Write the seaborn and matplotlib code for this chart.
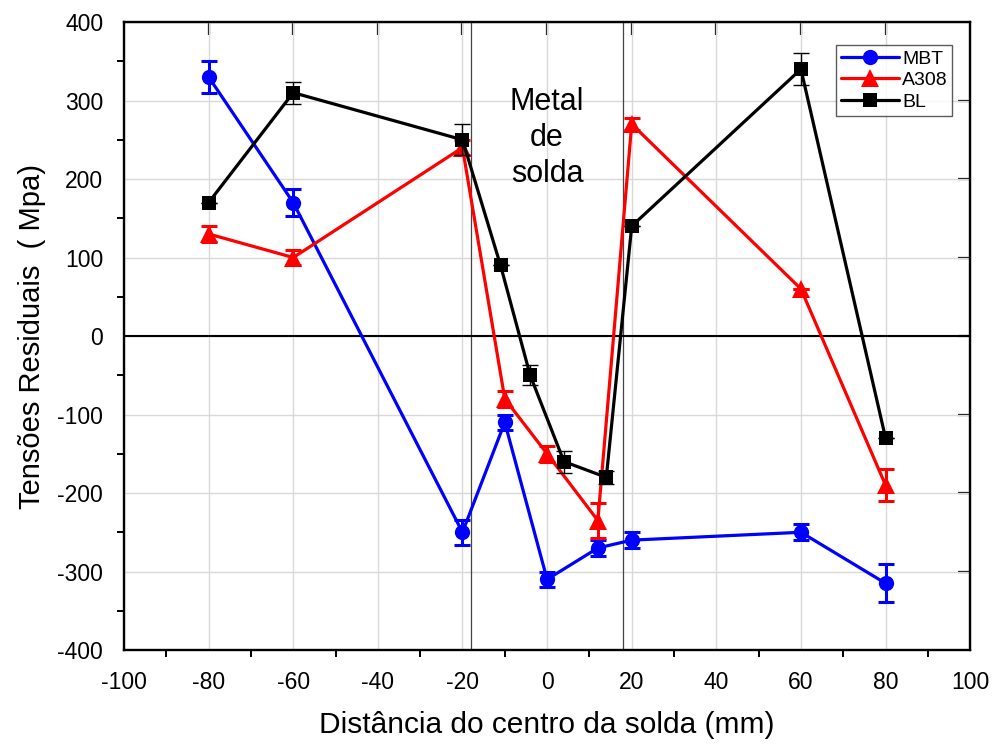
import matplotlib
matplotlib.use("Agg")
import matplotlib.pyplot as plt
import seaborn as sns
import pandas as pd
from matplotlib.ticker import MultipleLocator

# Residual stress profiles across the weld
mbt_x = [-80, -60, -20, -10, 0, 12, 20, 60, 80]
mbt_y = [330, 170, -250, -110, -310, -270, -260, -250, -315]
mbt_err = [20, 17, 16, 10, 10, 10, 10, 10, 24]

a308_x = [-80, -60, -20, -10, 0, 12, 20, 60, 80]
a308_y = [130, 100, 240, -80, -150, -235, 270, 60, -190]
a308_err = [10, 10, 10, 10, 10, 22, 8, 0, 20]

bl_x = [-80, -60, -20, -11, -4, 4, 14, 20, 60, 80]
bl_y = [170, 310, 250, 90, -50, -160, -180, 140, 340, -130]
bl_err = [0, 14, 20, 0, 13, 14, 8, 0, 20, 0]

weld_bounds = [-18, 18]

series = [
    ("MBT", mbt_x, mbt_y, mbt_err, "#0000ff", "o", 11, 2.2),
    ("A308", a308_x, a308_y, a308_err, "#ff0000", "^", 13, 2.2),
    ("BL", bl_x, bl_y, bl_err, "#000000", "s", 10, 1.0),
]

sns.set_style("white")
plt.rcParams["font.family"] = ["Liberation Sans", "DejaVu Sans"]
plt.rcParams["axes.unicode_minus"] = False
plt.rcParams["text.color"] = "black"
plt.rcParams["axes.labelcolor"] = "black"
plt.rcParams["xtick.color"] = "black"
plt.rcParams["ytick.color"] = "black"

fig = plt.figure(figsize=(9.92, 7.44), dpi=100)
ax = fig.add_axes([0.125, 0.1263, 0.853, 0.8441])

ax.grid(True, which="major", color="#d9d9d9", linewidth=1.0)
ax.set_axisbelow(True)

for xb in weld_bounds:
    ax.axvline(xb, color="#444444", linewidth=0.9, zorder=1)
ax.axhline(0, color="black", linewidth=1.5, zorder=1)

for name, xs, ys, errs, color, marker, ms, elw in series:
    df = pd.DataFrame({"x": xs, "y": ys})
    sns.lineplot(data=df, x="x", y="y", ax=ax, color=color, linewidth=2.3,
                 marker=marker, markersize=ms, markeredgewidth=0,
                 label=name, sort=False, zorder=3)
    ax.errorbar(xs, ys, yerr=errs, fmt="none", ecolor=color, elinewidth=elw,
                capsize=5.5, capthick=elw, zorder=3)

ax.set_xlim(-100, 100)
ax.set_ylim(-400, 400)
ax.xaxis.set_major_locator(MultipleLocator(20))
ax.xaxis.set_minor_locator(MultipleLocator(10))
ax.yaxis.set_major_locator(MultipleLocator(100))
ax.yaxis.set_minor_locator(MultipleLocator(50))

ax.tick_params(which="major", direction="out", length=9, width=1.6,
               labelsize=16.5, color="black", pad=6)
ax.tick_params(axis="y", which="major", pad=6)
ax.tick_params(axis="x", which="minor", direction="out", length=5, width=1.4,
               bottom=True)
ax.tick_params(axis="y", which="minor", direction="out", length=5, width=1.4,
               left=True)

for sp in ax.spines.values():
    sp.set_linewidth(1.7)
    sp.set_color("black")

# inward ticks on the top and right frame
top = ax.secondary_xaxis("top")
top.set_xticks(range(-80, 100, 20))
top.tick_params(direction="in", length=9, width=1.6, labeltop=False)
right = ax.secondary_yaxis("right")
right.set_yticks(range(-300, 400, 100))
right.tick_params(direction="in", length=9, width=1.6, labelright=False)

ax.set_xlabel("Distância do centro da solda (mm)", fontsize=21.5, labelpad=12)
ax.set_ylabel("Tensões Residuais  ( Mpa)", fontsize=21, labelpad=8)

ax.text(0, 252, "Metal\nde\nsolda", ha="center", va="center",
        fontsize=22, linespacing=1.25)

leg = ax.legend(loc="upper right", bbox_to_anchor=(0.979, 0.963),
                fontsize=14, frameon=True, fancybox=False,
                edgecolor="#333333", handlelength=3.0, handletextpad=0.15,
                borderpad=0.25, labelspacing=0.2, borderaxespad=0)
leg.get_frame().set_linewidth(1.0)

fig.savefig("out.png", dpi=100)
